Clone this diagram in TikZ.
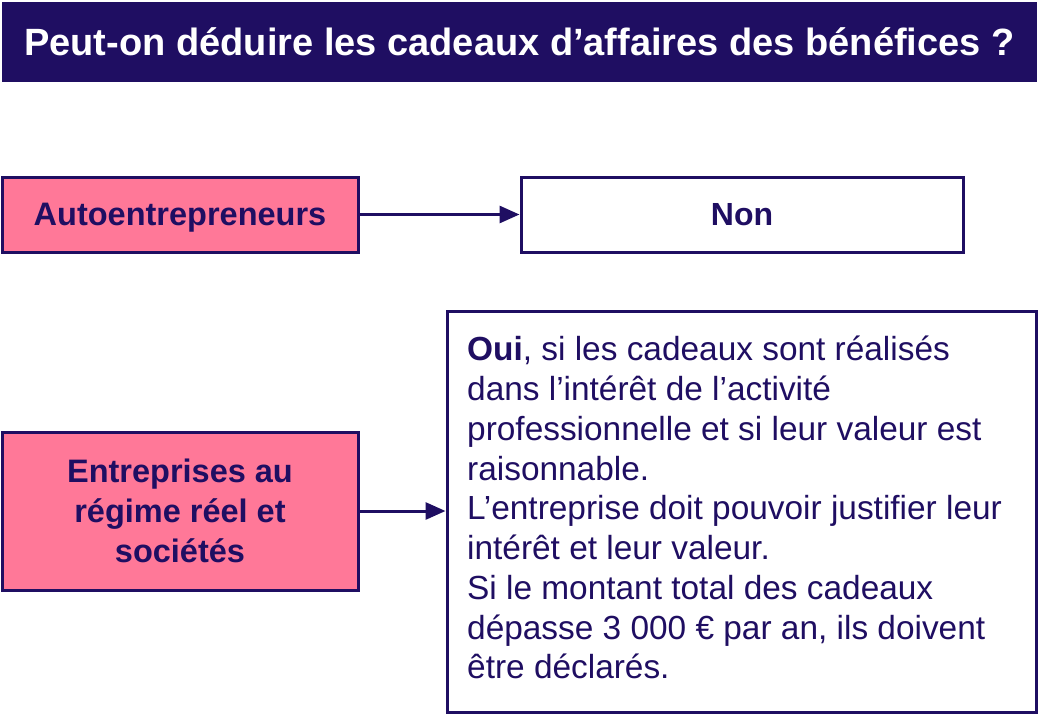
\documentclass[tikz,border=0pt]{standalone}
\usepackage{fontspec}
\setmainfont{Liberation Sans}
\usetikzlibrary{arrows.meta}
\definecolor{navy}{RGB}{31,14,98}
\definecolor{rose}{RGB}{255,120,152}
\begin{document}
\begin{tikzpicture}[x=1pt,y=-1pt,
  box/.style={draw=navy,line width=3pt,inner sep=0pt},
  pinkbox/.style={box,fill=rose,text=navy,font=\fontsize{32.5}{40}\selectfont\bfseries,align=center},
  conn/.style={draw=navy,line width=3pt,-{Triangle[length=20pt,width=17pt]}}]
\useasboundingbox (0,0) rectangle (1040,720);
\fill[white] (0,0) rectangle (1040,720);
\node[fill=navy,minimum width=1035pt,minimum height=80pt,inner sep=0pt,text=white,
  font=\fontsize{38}{40}\selectfont\bfseries] (title) at (519.5,42) {Peut-on déduire les cadeaux d’affaires des bénéfices ?};
\node[pinkbox,minimum width=356pt,minimum height=75pt,text height=24pt,text depth=3pt] (auto) at (180,214.5) {Autoentrepreneurs};
\node[box,fill=white,text=navy,minimum width=442pt,minimum height=75pt,font=\fontsize{32}{40}\selectfont\bfseries] (non) at (742,214.5) {Non};
\node[pinkbox,minimum width=356pt,minimum height=158pt] (ent) at (180,511) {Entreprises au\\régime réel et\\sociétés};
\node[box,fill=white,minimum width=589pt,minimum height=401pt] (oui) at (741.5,511.5) {};
\node[anchor=north west,inner sep=0pt,text=navy,align=left,font=\fontsize{33.4}{39.75}\selectfont] (ouitxt) at (467,336)
{\textbf{Oui}, si les cadeaux sont réalisés\\dans l’intérêt de l’activité\\professionnelle et si leur valeur est\\raisonnable.\\L’entreprise doit pouvoir justifier leur\\intérêt et leur valeur.\\Si le montant total des cadeaux\\dépasse 3 000 € par an, ils doivent\\être déclarés.};
\draw[conn] (auto.east) -- (non.west);
\draw[conn] (ent.east) -- (ent.east -| oui.west);
\end{tikzpicture}
\end{document}
